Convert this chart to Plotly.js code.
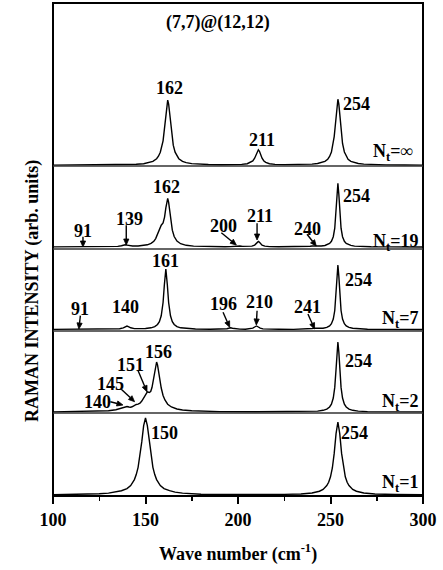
<!DOCTYPE html>
<html><head><meta charset="utf-8">
<script src="https://cdn.plot.ly/plotly-3.0.1.min.js"></script>
<style>body{margin:0;padding:0;background:#fff}#chart{width:443px;height:570px}</style>
</head><body><div id="chart"></div>
<script>
// Wave numbers (cm^-1) and Raman intensities (arb. units)
const xInf = [100,115,128,137,145,149,152,154,156,157,158,159,159.5,160,160.5,161,161.5,162,162.5,163,163.5,164,164.5,165,166,167,168,170,172,175,179,184,191,197,202,205,207,208,209,209.7,210.4,211,211.6,212.3,213,214,215,217,220,225,231,236,240,243,245,247,248.5,249.5,250.5,251.5,252,252.5,253,253.5,254,254.5,255,255.5,256,256.5,257.5,258.5,259.5,261,263,265,268,272,280,290,300];
const yInf = [0.9,0.95,1.05,1.25,1.7,2.3,3.3,4.6,7.3,9.8,13.8,20.8,25.2,33.3,42.4,52.8,62,65.8,62,52.8,42.4,33.3,25.2,20.8,13.8,9.8,7.3,4.6,3.35,2.35,1.75,1.45,1.3,1.3,1.6,2.3,3.6,5.0,7.8,11,14.7,16.2,14.7,11,7.8,5.0,3.6,2.3,1.65,1.35,1.35,1.5,1.85,2.5,3.25,4.7,6.8,9.5,14,22.5,29.4,38.8,50.5,61.8,66.8,61.8,50.5,38.8,29.4,22.5,14,9.5,6.8,4.7,3.25,2.5,1.85,1.5,1.1,1.0,0.9];

const x19 = [100,115,125,131,135,137,138,139,140,141,143,146,149,151,153,154.5,155.5,156.5,157.5,158.5,159.5,160.3,161,161.5,162,162.5,163,163.7,164.5,165.5,167,169,172,176,182,188,193,196,198,199,200,201,202.5,205,207.5,209,210,210.5,211,211.5,212,213,214.5,217,222,228,233,237,239,240,241,243,245,247,248.5,249.5,250.5,251.5,252.3,253,253.5,254,254.5,255,255.7,256.5,257.5,258.5,259.5,261,263,266,272,282,300];
const y19 = [2.1,2.15,2.2,2.3,2.65,3.3,3.85,4.2,3.9,3.4,3.0,3.05,3.5,4.2,5.6,7.7,10.4,14.8,20.5,23.8,26,31.9,41.1,47.8,50.6,46.7,38.9,27.7,18.8,12.5,7.9,5.3,3.7,2.9,2.5,2.3,2.3,2.4,2.65,2.95,3.2,3.0,2.65,2.5,2.85,3.9,5.75,6.95,7.55,6.95,5.75,3.9,2.85,2.35,2.2,2.15,2.25,2.45,2.8,3.0,2.95,2.8,2.95,3.55,4.45,5.6,7.7,12.3,20.8,36.9,54.7,65.7,54.7,36.9,20.8,12.3,7.7,5.6,4.45,3.55,2.85,2.55,2.25,2.1,2.05];

const x7 = [100,110,120,128,133,136,138,139,140,141,142,144,147,150,153,155,156.5,157.5,158.5,159.5,160.2,161,161.8,162.5,163.5,164.5,165.5,167,169,172,177,185,191,194,195,196,197,198.5,201,204,206.5,208,209,210,211,212,213.5,216,222,230,236,239,240,241,242,244,246,248,249.5,250.5,251.5,252.3,253,253.5,254,254.5,255,255.7,256.5,257.5,258.5,260,262,265,270,280,300];
const y7 = [1.6,1.6,1.65,1.75,1.8,2.2,3.1,4.15,4.9,4.2,3.2,2.4,2.3,2.5,3.2,4.4,6.5,9.3,15.2,28.5,46.3,62,46.3,28.5,15.2,9.3,6.5,4.4,3.2,2.5,1.95,1.75,1.8,2.2,2.7,3.2,2.7,2.1,1.85,1.8,2.1,2.85,4.0,5.0,4.0,2.85,2.1,1.8,1.7,1.65,1.75,2.15,2.5,2.75,2.6,2.45,2.75,3.6,5.1,7.3,12,20.5,36.8,54.9,66,54.9,36.8,20.5,12,7.3,5.1,3.6,2.75,2.15,1.8,1.6,1.55];

const x2 = [100,115,125,130,134,137,139,140,141,142,143,144,145,146,147,148,149,150,151,152,152.8,153.5,154.3,155,155.5,156,156.5,157,157.7,158.5,159.5,160.5,162,164,167,170,175,180,190,210,230,238,243,246,248,249.5,250.5,251.5,252.3,253,253.5,254,254.5,255,255.7,256.5,257.5,258.5,260,262,265,270,280,300];
const y2 = [1.1,1.3,1.5,2.2,3.3,4.8,6.2,6.5,6.0,5.7,6.5,7.8,8.5,8.8,9.8,12,15.5,19,21.2,20.5,21.5,25.5,33,42,48,51,48,42,34,25,17.5,13,8.8,6,4,3,2.2,1.8,1.4,1.2,1.3,1.4,1.9,2.7,3.9,6,8.9,15,25.6,43.7,61,71,61,43.7,25.6,15,8.9,6,3.9,2.7,1.9,1.4,1.2,1.1];

const x1 = [100,110,120,125,130,134,137,140,142,144,145,146,147,148,149,150,151,152,153,154,155,156,158,160,163,166,170,175,180,190,210,225,234,240,244,246,248,249,250,251,252,253,254,255,256,257,258,259,260,262,264,268,274,285,300];
const y1 = [1.3,1.4,1.8,2.2,2.9,3.9,5.3,7.4,10.5,16.4,21.4,28.7,39.5,54.3,70.3,78,70.3,54.3,39.5,28.7,21.4,16.4,10.5,7.4,5.3,3.9,2.9,2.2,1.8,1.5,1.4,1.6,2.05,2.95,4.75,6.6,10.4,13.7,19.2,28,42.6,62.4,74,62.4,42.6,28,19.2,13.7,10.4,6.6,4.75,2.95,2.0,1.45,1.2];

const xTicks = [100,150,200,250,300];
const panelNames = ['N<sub>t</sub>=1','N<sub>t</sub>=2','N<sub>t</sub>=7','N<sub>t</sub>=19','N<sub>t</sub>=∞'];

// layout geometry
const W = 443, H = 570, L = 53, R = 20, T = 3, B = 74;
const plotW = W - L - R, plotH = H - T - B;
const pxPerX = plotW / 200;   // pixels per wave-number unit
// panel boundaries in pixels from top
const bounds = [496, 413, 331, 249, 166, 3];
const doms = [];
for (let i = 0; i < 5; i++) doms.push([(496 - bounds[i]) / plotH, (496 - bounds[i + 1]) / plotH]);
const heights = doms.map(d => (d[1] - d[0]) * plotH);   // y unit = 1 px in every panel

const font = {family: 'Liberation Serif, Times New Roman, serif', size: 18, color: '#000', weight: 'bold'};
const line = {color: '#000', width: 1.4};

const series = [[x1, y1], [x2, y2], [x7, y7], [x19, y19], [xInf, yInf]];
const yNames = ['y', 'y2', 'y3', 'y4', 'y5'];
const traces = series.map((s, i) => ({
  x: s[0], y: s[1], xaxis: 'x', yaxis: yNames[i], type: 'scatter', mode: 'lines',
  line: line, hoverinfo: 'skip', showlegend: false
}));

const layout = {
  width: W, height: H, margin: {l: L, r: R, t: T, b: B},
  paper_bgcolor: '#fff', plot_bgcolor: '#fff', showlegend: false,
  xaxis: {
    domain: [0, 1], range: [100, 300], anchor: 'y', tickvals: xTicks,
    ticks: 'outside', ticklen: 7, tickwidth: 2, tickcolor: '#000',
    minor: {dtick: 25, tick0: 100, ticks: 'outside', ticklen: 4, tickwidth: 1.5, tickcolor: '#000'},
    showline: false, showgrid: false, zeroline: false, tickfont: font, fixedrange: true
  },
  shapes: [], annotations: []
};
for (let i = 0; i < 5; i++) {
  const key = i === 0 ? 'yaxis' : 'yaxis' + (i + 1);
  layout[key] = {domain: doms[i], range: [0, heights[i]], anchor: 'x', visible: false, fixedrange: true};
}
// frame and separators
layout.shapes.push({type: 'rect', xref: 'paper', yref: 'paper', x0: 0, x1: 1, y0: 0, y1: 1, line: {color: '#000', width: 2}});
for (let i = 1; i < 5; i++) {
  layout.shapes.push({type: 'line', xref: 'paper', yref: 'paper', x0: 0, x1: 1, y0: doms[i][0], y1: doms[i][0], line: {color: '#333', width: 1.5}});
}

function lab(text, x, y, yref, extra) {
  layout.annotations.push(Object.assign({text: text, x: x, y: y, xref: 'x', yref: yref, showarrow: false,
    font: font, xanchor: 'center', yanchor: 'middle'}, extra || {}));
}
// arrow drawn as a line plus a filled head (shapes), from start (sx,sy) to tip (tx,ty)
function arr(tx, ty, sx, sy, yref) {
  const dxp = (tx - sx) * pxPerX, dyp = (ty - sy);
  const len = Math.sqrt(dxp * dxp + dyp * dyp);
  const ux = dxp / len, uy = dyp / len;
  const hl = 6, hw = 2.6;
  const bx = -ux * hl, by = -uy * hl;           // base of head relative to tip (px)
  const nx = -uy, ny = ux;
  const toX = p => tx + p / pxPerX, toY = p => ty + p;
  layout.shapes.push({type: 'line', xref: 'x', yref: yref, x0: sx, y0: sy, x1: toX(bx), y1: toY(by),
    line: {color: '#000', width: 1.4}});
  const p1 = [toX(bx + nx * hw), toY(by + ny * hw)], p2 = [toX(bx - nx * hw), toY(by - ny * hw)];
  layout.shapes.push({type: 'path', xref: 'x', yref: yref,
    path: 'M ' + tx + ',' + ty + ' L ' + p1[0] + ',' + p1[1] + ' L ' + p2[0] + ',' + p2[1] + ' Z',
    fillcolor: '#000', line: {color: '#000', width: 0.8}});
}

// panel N=inf (y5)
lab('(7,7)@(12,12)', 189.2, 144, 'y5');
lab('162', 163.2, 78, 'y5');
lab('211', 213, 26, 'y5');
lab('254', 263.8, 62, 'y5');
lab(panelNames[4], 295.7, 14, 'y5', {xanchor: 'right'});
// panel N=19 (y4)
lab('162', 161.6, 62.3, 'y4');
lab('254', 264.3, 53, 'y4');
lab('91', 116.2, 18, 'y4');
lab('139', 141.4, 30.3, 'y4');
lab('200', 191.9, 23, 'y4');
lab('211', 212, 33, 'y4');
lab('240', 237.3, 20.3, 'y4');
lab(panelNames[3], 298.2, 7, 'y4', {xanchor: 'right'});
arr(116.2, 2, 116.2, 12.3, 'y4');
arr(139.6, 4, 139.6, 23.7, 'y4');
arr(199.1, 4, 191, 16.3, 'y4');
arr(210.3, 9, 210.3, 25.7, 'y4');
arr(242.3, 3, 237.3, 14.7, 'y4');
// panel N=7 (y3)
lab('161', 160.7, 70.3, 'y3');
lab('254', 265, 51.3, 'y3');
lab('91', 114.8, 22, 'y3');
lab('140', 139.1, 23.7, 'y3');
lab('196', 192.3, 27, 'y3');
lab('210', 211.7, 28.7, 'y3');
lab('241', 237.3, 23.7, 'y3');
lab(panelNames[2], 298.2, 12, 'y3', {xanchor: 'right'});
arr(114, 2, 114.8, 15.3, 'y3');
arr(195.5, 3.7, 191.9, 18.7, 'y3');
arr(209.9, 6, 210.3, 20.3, 'y3');
arr(241.4, 2, 237.8, 17, 'y3');
// panel N=2 (y2)
lab('156', 157.1, 61.3, 'y2');
lab('254', 265, 52, 'y2');
lab('151', 141.8, 48, 'y2');
lab('145', 131, 29.3, 'y2');
lab('140', 123.8, 11.3, 'y2');
lab(panelNames[1], 298.2, 10.3, 'y2', {xanchor: 'right'});
arr(150.8, 21.3, 145.9, 42.7, 'y2');
arr(144.1, 11.3, 136.9, 23.7, 'y2');
arr(137.8, 8, 131, 11.3, 'y2');
// panel N=1 (y)
lab('150', 160, 62.7, 'y');
lab('254', 263.2, 62.7, 'y');
lab(panelNames[0], 298.4, 13, 'y', {xanchor: 'right'});

// axis titles
layout.annotations.push({text: 'Wave number (cm<sup>-1</sup>)', xref: 'paper', yref: 'paper',
  x: (238 - L) / plotW, y: (496 - 553) / plotH, showarrow: false, font: font, xanchor: 'center', yanchor: 'middle'});
layout.annotations.push({text: 'RAMAN INTENSITY (arb. units)', xref: 'paper', yref: 'paper',
  x: (32 - L) / plotW, y: (496 - 291) / plotH, showarrow: false, font: font, textangle: -90, xanchor: 'center', yanchor: 'middle'});

Plotly.newPlot('chart', traces, layout, {staticPlot: true, displayModeBar: false});
</script></body></html>
